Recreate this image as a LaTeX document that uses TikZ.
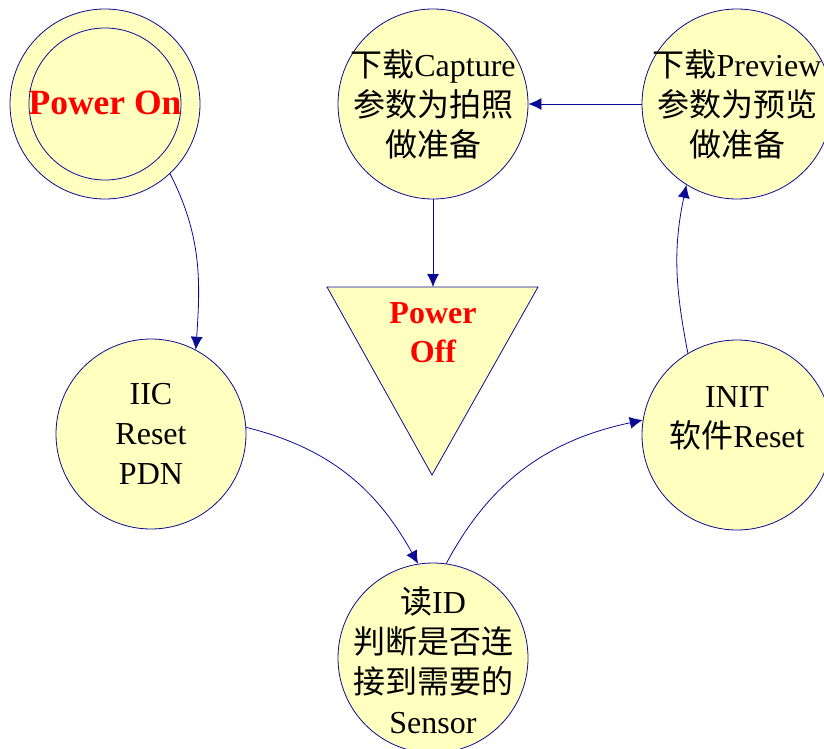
\documentclass[tikz,border=0pt]{standalone}
\usepackage{fontspec}
\setmainfont{Liberation Serif}
\newfontfamily\cjk{Noto Sans CJK SC}
\usetikzlibrary{arrows.meta}
\definecolor{stfill}{RGB}{255,255,192}
\definecolor{stline}{RGB}{10,10,150}
\begin{document}
\begin{tikzpicture}[x=1pt,y=1pt,
  state/.style={circle,draw=stline,fill=stfill,line width=0.8pt,minimum size=190pt,inner sep=0pt},
  txt/.style={align=center,inner sep=0pt,font=\fontsize{32}{40}\selectfont},
  redtxt/.style={align=center,inner sep=0pt,text=red,font=\fontsize{32}{39}\selectfont\bfseries},
  link/.style={draw=stline,line width=0.8pt,-{Latex[length=13pt,width=12pt]}}]
  % Page frame
  \path[use as bounding box] (0,0) rectangle (824,-749);
  \clip (0,0) rectangle (824,-749);
  % States
  \node[state] (on)   at (105,-104) {};
  \draw[stline,line width=0.8pt] (on) circle (76);
  \node[state] (cap)  at (433,-104) {};
  \node[state] (prev) at (737,-104) {};
  \node[state] (iic)  at (151,-434) {};
  \node[state] (init) at (737,-435) {};
  \node[state] (rid)  at (433,-658) {};
  % Power off triangle
  \draw[stline,fill=stfill,line width=0.8pt] (327,-287) -- (538,-287) -- (432,-475) -- cycle;
  \coordinate (offtop) at (433,-287);
  % Texts
  \node[redtxt,font=\fontsize{35.5}{40}\selectfont\bfseries] (on-t) at (105,-103) {Power On};
  \node[txt] (cap-t)  at (433,-104) {{\cjk 下载}Capture\\{\cjk 参数为拍照}\\{\cjk 做准备}};
  \node[txt] (prev-t) at (737,-104) {{\cjk 下载}Preview\\{\cjk 参数为预览}\\{\cjk 做准备}};
  \node[txt] (iic-t)  at (151,-434) {IIC\\Reset\\PDN};
  \node[txt] (init-t) at (737,-418) {INIT\\{\cjk 软件}Reset};
  \node[txt] (rid-t)  at (433,-660) {{\cjk 读}ID\\{\cjk 判断是否连}\\{\cjk 接到需要的}\\Sensor};
  \node[redtxt] (off-t) at (433,-333) {Power\\Off};
  % Transitions
  \draw[link] (on.-47) to[out=-63,in=86] (iic.62);
  \draw[link] (cap.south) -- (offtop);
  \draw[link] (prev.west) -- (cap.east);
  \draw[link] (iic.4) to[out=-14,in=119] (rid.99);
  \draw[link] (rid.82) to[out=62,in=-168] (init.171);
  \draw[link] (init.121) to[out=101,in=-102] (prev.238);
\end{tikzpicture}
\end{document}
